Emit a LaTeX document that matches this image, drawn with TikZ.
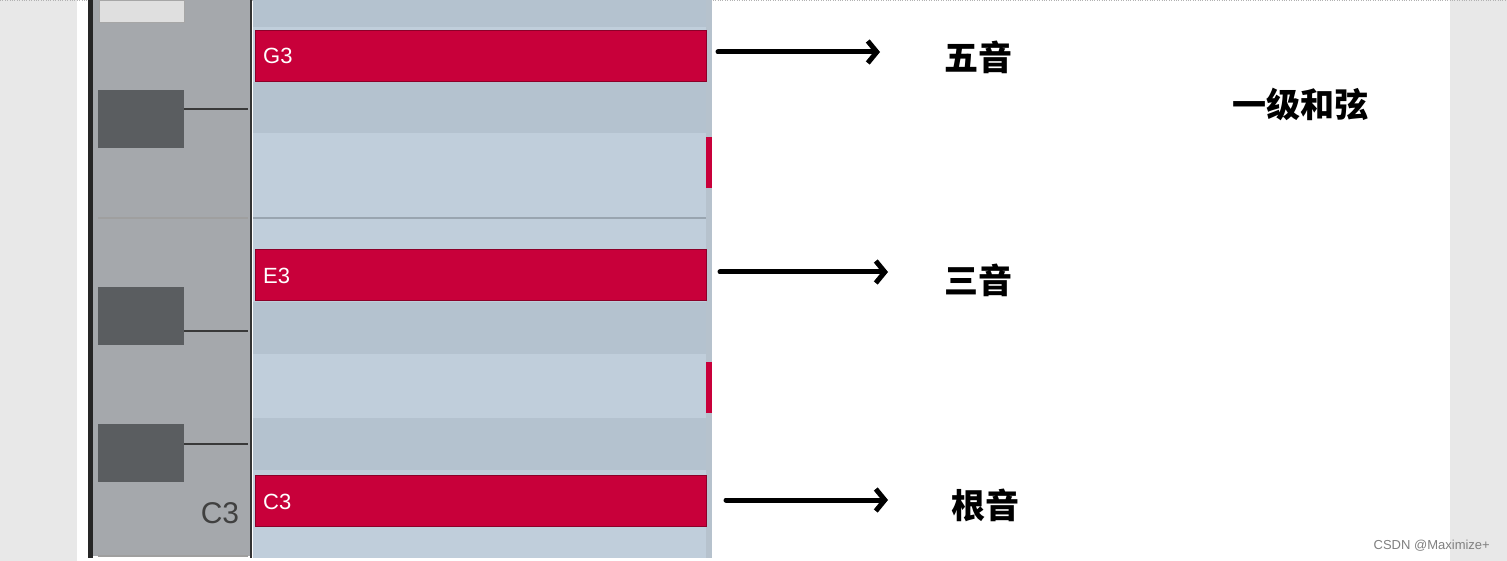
\documentclass[tikz,border=0pt]{standalone}
\usepackage{fontspec}
\setmainfont{Liberation Sans}
\newfontfamily\cjk{Noto Sans CJK SC}
\usetikzlibrary{arrows.meta}
\definecolor{notered}{HTML}{C8003A}
\definecolor{gridlt}{HTML}{C0CEDB}
\definecolor{griddk}{HTML}{B4C2CF}
\definecolor{keygray}{HTML}{A5A8AC}
\definecolor{blackkey}{HTML}{5A5D60}
\tikzset{
  note/.style={fill=notered, draw=notered!70!black, line width=0.8pt},
  notelabel/.style={text=white, font=\fontsize{22}{22}\selectfont, anchor=west, inner sep=0},
  bkey/.style={fill=blackkey, draw=none},
  harrow/.style={line width=5pt, -{Straight Barb[length=9pt,width=22pt,line width=5pt]}, line cap=round},
  cjklabel/.style={font=\cjk\bfseries\fontsize{34}{34}\selectfont, inner sep=0}
}
\begin{document}
\begin{tikzpicture}[x=1pt,y=-1pt]
\useasboundingbox (0,0) rectangle (1507,561);
\fill[white] (0,0) rectangle (1507,561);
\fill[gray!18] (0,0) rectangle (77,561);
\fill[gray!18] (1450,0) rectangle (1507,561);
\draw[gray!60, dotted] (0,0.5) -- (1507,0.5);
% keyboard
\fill[keygray] (92,0) rectangle (250,556);
\fill[black!85] (88,0) rectangle (93,558);
\draw[black!80, line width=2pt] (251,0) -- (251,558);
\fill[gray!25, draw=gray!70] (99,0) rectangle (184,22);
\draw[gray!75, line width=2pt] (98,218) -- (248,218);
\draw[gray!75, line width=2pt] (98,556) -- (248,556);
\node[bkey, minimum width=86pt, minimum height=58pt, inner sep=0] (bk1) at (141,119) {};
\node[bkey, minimum width=86pt, minimum height=58pt, inner sep=0] (bk2) at (141,316) {};
\node[bkey, minimum width=86pt, minimum height=58pt, inner sep=0] (bk3) at (141,453) {};
\draw[gray!45!black, line width=2pt] (184,109) -- (248,109);
\draw[gray!45!black, line width=2pt] (184,331) -- (248,331);
\draw[gray!45!black, line width=2pt] (184,444) -- (248,444);
\node[font=\fontsize{30}{30}\selectfont, text=black!75, inner sep=0] (c3key) at (220,513) {C3};
% grid
\fill[gridlt] (253,0) rectangle (706,558);
\foreach \a/\b in {0/27, 82/133, 302/354, 418/470}
  \fill[griddk] (253,\a) rectangle (706,\b);
\draw[griddk!85!black, line width=1.5pt] (253,218) -- (712,218);
\fill[gridlt!85!gray] (706,0) rectangle (712,558);
\fill[notered] (706,137) rectangle (712,188);
\fill[notered] (706,362) rectangle (712,413);
% notes
\node[note, minimum width=451pt, minimum height=51pt, inner sep=0, anchor=north west] (g3) at (255,30) {};
\node[note, minimum width=451pt, minimum height=51pt, inner sep=0, anchor=north west] (e3) at (255,249) {};
\node[note, minimum width=451pt, minimum height=51pt, inner sep=0, anchor=north west] (c3) at (255,475) {};
\node[notelabel] (g3l) at (263,56) {G3};
\node[notelabel] (e3l) at (263,276) {E3};
\node[notelabel] (c3l) at (263,502) {C3};
% labels
\node[cjklabel] (wu) at (978,57) {五音};
\node[cjklabel] (san) at (978,280) {三音};
\node[cjklabel] (gen) at (985,505) {根音};
\node[cjklabel] (chord) at (1300,104) {一级和弦};
\coordinate (a1) at (718,52); \coordinate (b1) at (880,52);
\coordinate (a2) at (720,272); \coordinate (b2) at (888,272);
\coordinate (a3) at (726,500); \coordinate (b3) at (888,500);
\draw[harrow] (a1) -- (b1);
\draw[harrow] (a2) -- (b2);
\draw[harrow] (a3) -- (b3);
\node[font=\fontsize{13}{13}\selectfont, text=gray, anchor=east, inner sep=0] (wm) at (1490,546) {CSDN @Maximize+};
\end{tikzpicture}
\end{document}
